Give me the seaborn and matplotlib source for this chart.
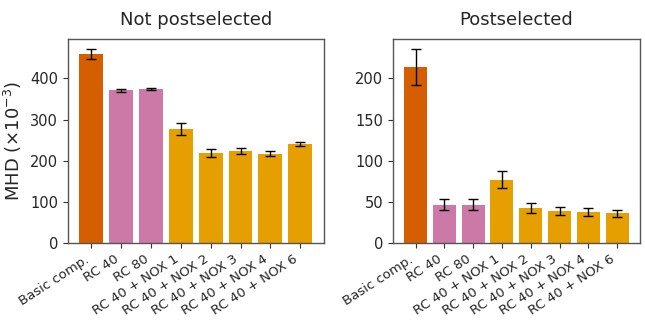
import matplotlib
matplotlib.use("Agg")
import matplotlib.pyplot as plt
import seaborn as sns
import pandas as pd

categories = ["Basic comp.", "RC 40", "RC 80", "RC 40 + NOX 1", "RC 40 + NOX 2",
              "RC 40 + NOX 3", "RC 40 + NOX 4", "RC 40 + NOX 6"]
groups = ["basic", "rc", "rc", "nox", "nox", "nox", "nox", "nox"]
not_post_values = [460, 371, 374, 277, 219, 224, 217, 241]
not_post_errors = [12, 4, 3, 14, 9, 7, 6, 4.5]
post_values = [214, 46.5, 46.5, 77, 43, 39, 38, 36]
post_errors = [22, 6.5, 6.5, 10, 6, 5, 4.6, 4.7]
titles = ["Not postselected", "Postselected"]
group_colors = {"basic": "#D55E00", "rc": "#CC79A7", "nox": "#E69F00"}

sns.set_style("white")
plt.rcParams["font.family"] = "sans-serif"
plt.rcParams["font.sans-serif"] = ["DejaVu Sans"]
plt.rcParams["mathtext.fontset"] = "dejavusans"

fig = plt.figure(figsize=(6.45, 3.28), dpi=100)
ax1 = fig.add_axes([0.105, 0.259, 0.397, 0.622])
ax2 = fig.add_axes([0.609, 0.259, 0.383, 0.622])

for ax, vals, errs, title in [(ax1, not_post_values, not_post_errors, titles[0]),
                              (ax2, post_values, post_errors, titles[1])]:
    df = pd.DataFrame({"cat": categories, "val": vals, "grp": groups})
    sns.barplot(data=df, x="cat", y="val", hue="grp", palette=group_colors,
                dodge=False, width=0.8, saturation=1, legend=False,
                linewidth=0, edgecolor="none", ax=ax)
    ax.errorbar(range(len(categories)), vals, yerr=errs, fmt="none",
                ecolor="black", elinewidth=1, capsize=3.5, capthick=1)
    ax.set_title(title, fontsize=13, pad=10)
    ax.set_xlabel("")
    ax.set_ylabel("")
    ax.set_xticks(range(len(categories)))
    ax.set_xticklabels(categories, rotation=33, ha="right", fontsize=9.5)
    ax.tick_params(axis="y", labelsize=10.5, length=3.5, width=0.8, color="#333333", left=True)
    ax.tick_params(axis="x", length=3.5, width=0.8, color="#333333", bottom=True)
    for s in ax.spines.values():
        s.set_color("#555555")
        s.set_linewidth(1.0)

ax1.set_ylabel(r"MHD ($\times10^{-3}$)", fontsize=13)
ax1.set_yticks([0, 100, 200, 300, 400])
ax2.set_yticks([0, 50, 100, 150, 200])

fig.savefig("out.png", dpi=100)
